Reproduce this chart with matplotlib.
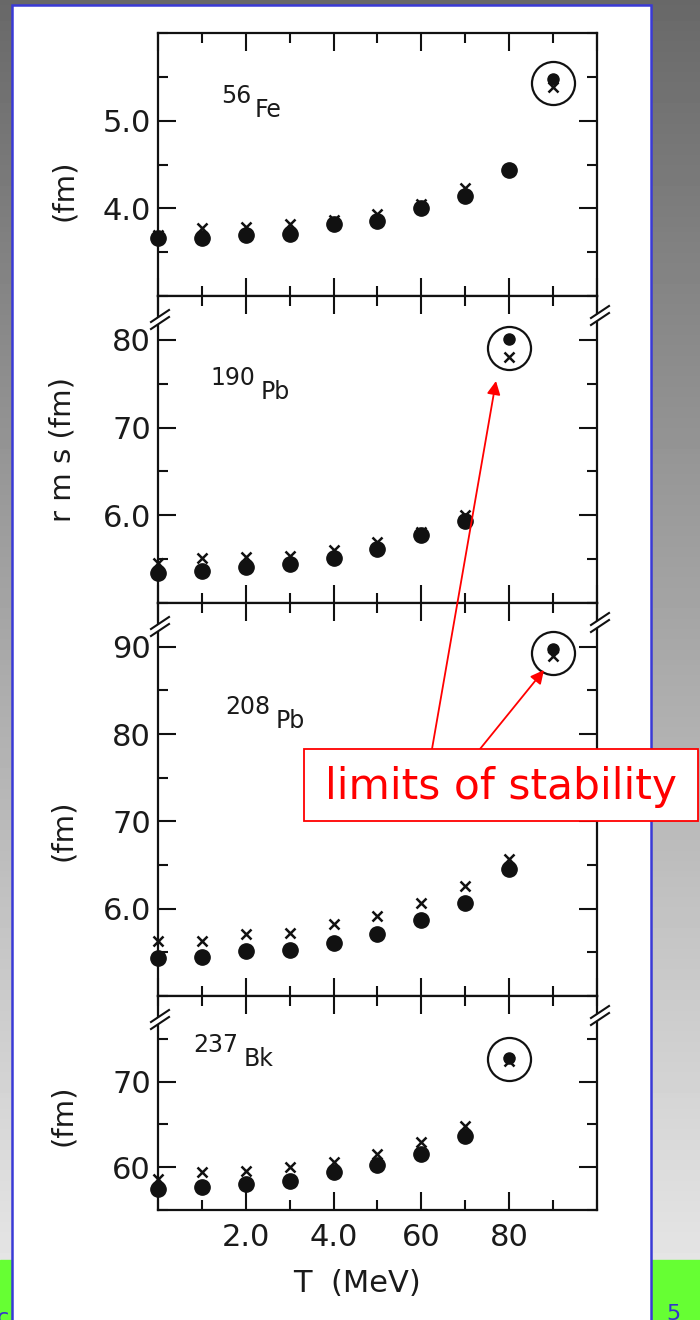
import numpy as np
import matplotlib

matplotlib.use("Agg")
import matplotlib.pyplot as plt
from matplotlib.lines import Line2D
from matplotlib.patches import FancyArrowPatch, Polygon, Rectangle
from matplotlib.ticker import FixedFormatter, FixedLocator, MultipleLocator

W, H = 700, 1320

# temperature grid (MeV)
T = [0, 1, 2, 3, 4, 5, 6, 7, 8]

# rms radii (fm): dots and crosses for each nucleus
fe56_dot = [3.66, 3.66, 3.70, 3.71, 3.82, 3.86, 4.00, 4.14, 4.44]
fe56_x = [3.70, 3.77, 3.79, 3.82, 3.87, 3.93, 4.05, 4.23, 4.44]
fe56_lim = (9, 5.48, 5.38)

pb190_dot = [5.34, 5.37, 5.41, 5.44, 5.51, 5.62, 5.77, 5.94]
pb190_x = [5.46, 5.51, 5.52, 5.54, 5.60, 5.69, 5.81, 6.00]
pb190_lim = (8, 8.01, 7.81)

pb208_dot = [5.44, 5.45, 5.52, 5.53, 5.61, 5.71, 5.87, 6.06, 6.45]
pb208_x = [5.63, 5.63, 5.71, 5.72, 5.82, 5.92, 6.06, 6.26, 6.57]
pb208_lim = (9, 8.97, 8.89)

bk237_dot = [5.74, 5.77, 5.80, 5.84, 5.94, 6.03, 6.15, 6.36]
bk237_x = [5.86, 5.94, 5.95, 6.00, 6.06, 6.16, 6.29, 6.48]
bk237_lim = (8, 7.28, 7.24)

# y ticks and the labels printed next to them
fe56_yticks, fe56_ylabels = [4.0, 5.0], ["4.0", "5.0"]
pb190_yticks, pb190_ylabels = [6.0, 7.0, 8.0], ["6.0", "70", "80"]
pb208_yticks, pb208_ylabels = [6.0, 7.0, 8.0, 9.0], ["6.0", "70", "80", "90"]
bk237_yticks, bk237_ylabels = [6.0, 7.0], ["60", "70"]

xticks, xlabels = [2, 4, 6, 8], ["2.0", "4.0", "60", "80"]

INK = "#1a1a1a"


def px(x, y):
    """pixel position (from top-left) -> figure fraction"""
    return x / W, 1 - y / H


def make_panel(fig, top, bottom, ylim, yticks, ylabels, show_x=False):
    left, right = 158, 597
    x0, y0 = px(left, bottom)
    ax = fig.add_axes([x0, y0, (right - left) / W, (bottom - top) / H])
    ax.set_xlim(0, 10)
    ax.set_ylim(*ylim)
    for s in ax.spines.values():
        s.set_linewidth(1.6)
        s.set_color("#111111")
    ax.xaxis.set_major_locator(MultipleLocator(2))
    ax.xaxis.set_minor_locator(MultipleLocator(1))
    ax.yaxis.set_major_locator(FixedLocator(yticks))
    ax.yaxis.set_major_formatter(FixedFormatter(ylabels))
    ax.yaxis.set_minor_locator(MultipleLocator(0.5))
    ax.tick_params(which="both", direction="in", top=True, right=True,
                   width=1.5, color="#111111")
    ax.tick_params(which="major", length=13)
    ax.tick_params(which="minor", length=7)
    ax.tick_params(axis="y", labelsize=22, pad=5, labelcolor=INK)
    if show_x:
        ax.set_xticks(xticks)
        ax.set_xticklabels(xlabels)
        ax.tick_params(axis="x", labelsize=22, pad=9, labelcolor=INK)
    else:
        ax.tick_params(axis="x", labelbottom=False)
    return ax


def draw_points(ax, dots, crosses, lim):
    n = len(dots)
    ax.plot(T[:n], crosses, "x", color="#111111", ms=6.5, mew=1.8, clip_on=False)
    ax.plot(T[:n], dots, "o", color="#111111", ms=11, clip_on=False)
    t_lim, r_dot, r_x = lim
    ax.plot(t_lim, r_x, "x", color="#111111", ms=6.5, mew=1.8)
    ax.plot(t_lim, r_dot, "o", color="#111111", ms=8)
    ax.plot(t_lim, (r_dot + r_x) / 2, "o", mfc="none", mec="#111111",
            ms=31, mew=1.6)


def nucleus_label(fig, mass, sym, x, y):
    # mass number sits above and left of the element symbol
    fig.text(*px(x, y), mass, fontsize=17, color=INK, va="bottom")
    fig.text(*px(x + 16.5 * len(mass) + 1, y + 14), sym, fontsize=17,
             color=INK, va="bottom")


def axis_break(fig, x, y):
    gap = Polygon([px(x - 8, y + 8), px(x + 8, y - 3), px(x + 8, y - 9),
                   px(x - 8, y + 2)], closed=True, transform=fig.transFigure,
                  fc="white", ec="none", zorder=5)
    fig.add_artist(gap)
    for dy in (0, 7):
        fig.add_artist(Line2D([(x - 9) / W, (x + 9) / W],
                              [1 - (y + 9 - dy) / H, 1 - (y - 3 - dy) / H],
                              transform=fig.transFigure, color="#111111",
                              lw=1.5, zorder=6))


def main():
    fig = plt.figure(figsize=(W / 100, H / 100), dpi=100)
    fig.patch.set_facecolor("#888888")

    # slide background: grey gradient, green footer strip
    bg = fig.add_axes([0, 0, 1, 1], zorder=-10)
    grad = np.linspace(0.41, 0.92, 256).reshape(-1, 1)
    bg.imshow(grad, cmap="gray", vmin=0, vmax=1, aspect="auto",
              extent=[0, 1, 0, 1], origin="upper")
    bg.add_patch(Rectangle((0, 0), 1, 60 / H, color="#66ff33", zorder=2))
    bg.text(666 / W, -4 / H, "5", color="#3333cc", fontsize=16, va="bottom",
            zorder=3)
    bg.text(-3 / W, -8 / H, "c", color="#3333cc", fontsize=16, va="bottom",
            zorder=3)
    bg.set_xlim(0, 1)
    bg.set_ylim(0, 1)
    bg.axis("off")

    page = Rectangle(px(12, 1330), 639 / W, 1325 / H, transform=fig.transFigure,
                     fc="white", ec="#3a3ad6", lw=1.8, zorder=-5)
    fig.add_artist(page)

    ax1 = make_panel(fig, 33, 296, (3.0, 6.0), fe56_yticks, fe56_ylabels)
    ax2 = make_panel(fig, 296, 603, (5.0, 8.5), pb190_yticks, pb190_ylabels)
    ax3 = make_panel(fig, 603, 996, (5.0, 9.5), pb208_yticks, pb208_ylabels)
    ax4 = make_panel(fig, 996, 1210, (5.5, 8.0), bk237_yticks, bk237_ylabels,
                     show_x=True)

    draw_points(ax1, fe56_dot, fe56_x, fe56_lim)
    draw_points(ax2, pb190_dot, pb190_x, pb190_lim)
    draw_points(ax3, pb208_dot, pb208_x, pb208_lim)
    draw_points(ax4, bk237_dot, bk237_x, bk237_lim)

    nucleus_label(fig, "56", "Fe", 221, 108)
    nucleus_label(fig, "190", "Pb", 210, 390)
    nucleus_label(fig, "208", "Pb", 225, 719)
    nucleus_label(fig, "237", "Bk", 193, 1057)

    for top in (296, 603, 996):
        axis_break(fig, 160, top + 24)
        axis_break(fig, 600, top + 20)

    ylab = dict(rotation=90, fontsize=21, color=INK, ha="center", va="center")
    fig.text(*px(64, 190), "(fm)", **ylab)
    fig.text(*px(63, 450), "r m s (fm)", **ylab)
    fig.text(*px(63, 830), "(fm)", **ylab)
    fig.text(*px(63, 1115), "(fm)", **ylab)
    fig.text(*px(357, 1283), "T  (MeV)", fontsize=22, color=INK,
             ha="center", va="center")

    # callout
    box = Rectangle(px(304, 821), 394 / W, 72 / H, transform=fig.transFigure,
                    fc="white", ec="#ff0000", lw=1.3, zorder=20)
    fig.add_artist(box)
    fig.text(*px(501, 787), "limits of stability", fontsize=30.5,
             color="#ff0000", ha="center", va="center", zorder=21)
    for start, end in [((432, 749), (496, 381)), ((480, 749), (544, 670))]:
        fig.add_artist(FancyArrowPatch(px(*start), px(*end),
                                       transform=fig.transFigure,
                                       arrowstyle="-|>", mutation_scale=20,
                                       color="#ff0000", lw=1.3,
                                       shrinkA=0, shrinkB=0, zorder=19))

    fig.savefig("out.png", dpi=100)


if __name__ == "__main__":
    main()
